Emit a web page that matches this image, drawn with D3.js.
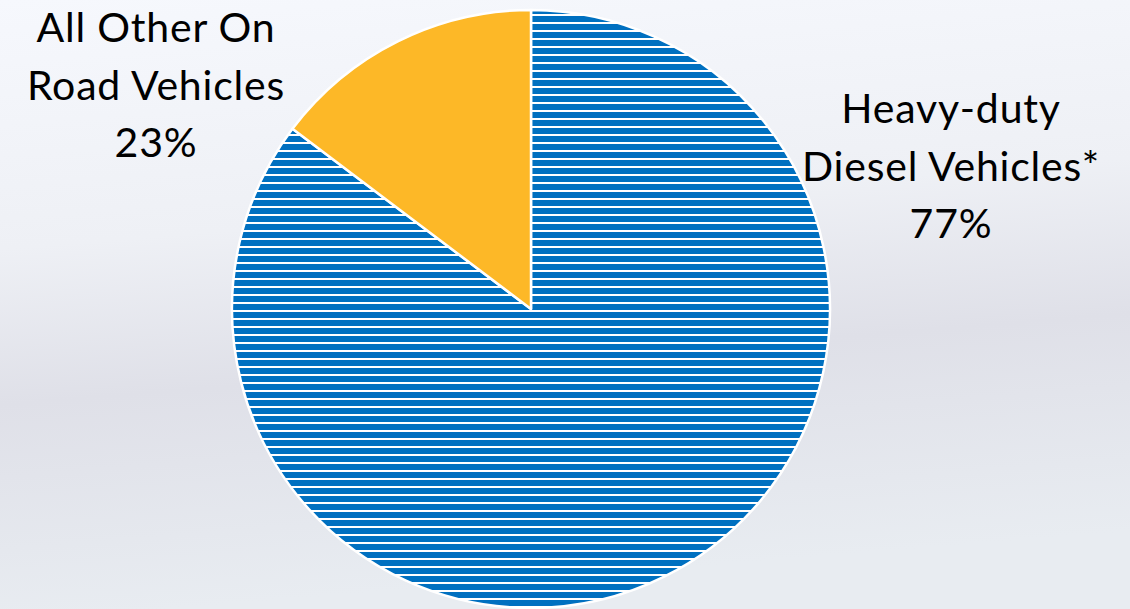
<!DOCTYPE html>
<html>
<head>
<meta charset="utf-8">
<script src="https://cdn.jsdelivr.net/npm/d3@7"></script>
<style>
  body { margin: 0; overflow: hidden; }
  svg { display: block; }
</style>
</head>
<body>
<div class="container"></div>
<script>
// slice shares as drawn in the picture, and the label texts
var categories = ['Heavy-duty Diesel Vehicles*', 'All Other On Road Vehicles'];
var values = [85.3, 14.7];
var labelLines = [
  ['Heavy-duty', 'Diesel Vehicles*', '77%'],
  ['All Other On', 'Road Vehicles', '23%']
];

var width = 1130, height = 609;
var cx = 531, cy = 309, radius = 299;

var svg = d3.select('.container').append('svg')
  .attr('width', width)
  .attr('height', height);

var defs = svg.append('defs');

// soft grey background
var bg = defs.append('linearGradient')
  .attr('id', 'bg')
  .attr('x1', 0).attr('y1', 0).attr('x2', 0.15).attr('y2', 1);
bg.append('stop').attr('offset', '0%').attr('stop-color', '#f6f8fd');
bg.append('stop').attr('offset', '40%').attr('stop-color', '#eef0f5');
bg.append('stop').attr('offset', '65%').attr('stop-color', '#dfe0e8');
bg.append('stop').attr('offset', '100%').attr('stop-color', '#e8ecf1');

svg.append('rect')
  .attr('width', width).attr('height', height)
  .attr('fill', 'url(#bg)');

// horizontal stripes for the diesel slice
var stripes = defs.append('pattern')
  .attr('id', 'stripes')
  .attr('patternUnits', 'userSpaceOnUse')
  .attr('width', 8).attr('height', 8)
  .attr('y', 3);
stripes.append('rect').attr('width', 8).attr('height', 8).attr('fill', '#ffffff');
stripes.append('rect').attr('width', 8).attr('height', 6).attr('fill', '#0070c0');

var colors = ['url(#stripes)', '#fdb827'];

var pie = d3.pie().sort(null).value(function(d){ return d; });
var arc = d3.arc().innerRadius(0).outerRadius(radius);

var g = svg.append('g').attr('transform', 'translate(' + cx + ',' + cy + ')');

g.selectAll('path')
  .data(pie(values))
  .enter().append('path')
  .attr('d', arc)
  .attr('fill', function(d, i){ return colors[i]; })
  .attr('stroke', '#ffffff')
  .attr('stroke-width', 2.5)
  .attr('stroke-linejoin', 'round');

// labels
var labelPos = [
  { x: 951, y: 123 },
  { x: 156, y: 42 }
];

labelLines.forEach(function(lines, i){
  var t = svg.append('text')
    .attr('text-anchor', 'middle')
    .attr('font-family', 'Lato, "Open Sans", sans-serif')
    .attr('font-size', 41)
    .attr('letter-spacing', 0.8)
    .attr('fill', '#000');
  lines.forEach(function(line, j){
    t.append('tspan')
      .attr('x', labelPos[i].x)
      .attr('y', labelPos[i].y + j * 57.5)
      .text(line);
  });
});
</script>
</body>
</html>
